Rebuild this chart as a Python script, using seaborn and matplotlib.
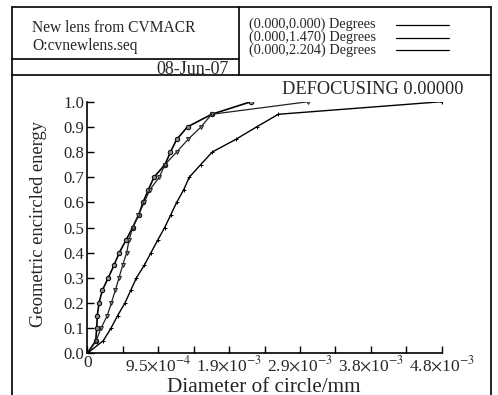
import matplotlib
matplotlib.use('Agg')
import matplotlib.pyplot as plt
import numpy as np
import pandas as pd
import seaborn as sns
from matplotlib.lines import Line2D
from matplotlib.ticker import MultipleLocator, FixedLocator, FixedFormatter

sns.set_style('white')
plt.rcParams['font.family'] = ['Liberation Serif', 'DejaVu Serif']
plt.rcParams['mathtext.fontset'] = 'stix'

# encircled energy levels (same for every field)
energia = [0.0, 0.05, 0.10, 0.15, 0.20, 0.25, 0.30, 0.35, 0.40, 0.45, 0.50,
           0.55, 0.60, 0.65, 0.70, 0.75, 0.80, 0.85, 0.90, 0.95, 1.0]

# diameters (mm) for each field angle
diam_0000 = [0.0, 1.13e-4, 1.26e-4, 1.34e-4, 1.57e-4, 2.01e-4, 2.81e-4, 3.58e-4,
             4.29e-4, 5.19e-4, 6.08e-4, 6.89e-4, 7.47e-4, 8.18e-4, 8.94e-4,
             1.041e-3, 1.115e-3, 1.198e-3, 1.343e-3, 1.667e-3, 2.194e-3]
diam_1470 = [0.0, 1.20e-4, 1.84e-4, 2.68e-4, 3.22e-4, 3.75e-4, 4.25e-4, 4.74e-4,
             5.28e-4, 5.59e-4, 6.08e-4, 6.84e-4, 7.64e-4, 8.38e-4, 9.65e-4,
             1.041e-3, 1.198e-3, 1.350e-3, 1.524e-3, 1.667e-3, 2.962e-3]
diam_2204 = [0.0, 2.14e-4, 3.18e-4, 4.07e-4, 5.05e-4, 5.82e-4, 6.59e-4, 7.64e-4,
             8.54e-4, 9.44e-4, 1.037e-3, 1.118e-3, 1.198e-3, 1.292e-3, 1.367e-3,
             1.520e-3, 1.675e-3, 1.989e-3, 2.270e-3, 2.560e-3, 4.75e-3]

campos = ['(0.000,0.000) Degrees', '(0.000,1.470) Degrees', '(0.000,2.204) Degrees']
xticks_val = [0, 9.5e-4, 1.9e-3, 2.85e-3, 3.8e-3, 4.75e-3]
xticks_lab = ['0', r'9.5$\times$10$^{-4}$', r'1.9$\times$10$^{-3}$', r'2.9$\times$10$^{-3}$',
              r'3.8$\times$10$^{-3}$', r'4.8$\times$10$^{-3}$']
yticks_val = [0.0, 0.1, 0.2, 0.3, 0.4, 0.5, 0.6, 0.7, 0.8, 0.9, 1.0]
yticks_lab = ['0.0', '0.1', '0.2', '0.3', '0.4', '0.5', '0.6', '0.7', '0.8', '0.9', '1.0']

df = pd.concat([
    pd.DataFrame({'diam': diam_0000, 'ee': energia, 'campo': campos[0]}),
    pd.DataFrame({'diam': diam_1470, 'ee': energia, 'campo': campos[1]}),
    pd.DataFrame({'diam': diam_2204, 'ee': energia, 'campo': campos[2]}),
])

W, H = 498, 395
fig = plt.figure(figsize=(W/100, H/100), dpi=100)
fx = lambda px: px/W
fy = lambda py: 1-py/H

ax = fig.add_axes([fx(87.3), fy(353.3), fx(441.7)-fx(87.3), fy(101.7)-fy(353.3)])

estilos = {campos[0]: dict(marker='o', ms=3.2, mfc='#888888', mec='black', lw=1.2, color='black'),
           campos[1]: dict(marker='v', ms=2.8, mfc='#888888', mec='#222222', lw=0.9, color='#222222'),
           campos[2]: dict(marker='+', ms=3, mec='black', lw=1.0, color='black')}
for c in campos:
    sub = df[df['campo'] == c]
    sns.lineplot(x='diam', y='ee', data=sub, sort=False, estimator=None, ax=ax,
                 markeredgewidth=0.7, **estilos[c])

ax.set_xlim(0, 4.75e-3)
ax.set_ylim(0, 1.0)
ax.xaxis.set_major_locator(FixedLocator(xticks_val))
ax.xaxis.set_major_formatter(FixedFormatter(xticks_lab))
ax.xaxis.set_minor_locator(MultipleLocator(4.75e-4))
ax.yaxis.set_major_locator(FixedLocator(yticks_val))
ax.yaxis.set_major_formatter(FixedFormatter(yticks_lab))
ax.tick_params(axis='both', which='both', direction='in', length=5, width=1, color='black',
               labelsize=12, pad=2)
ax.tick_params(axis='x', which='minor', length=5)
ax.tick_params(axis='x', labelsize=12.5, pad=1)
ax.yaxis.set_ticks_position('left')
ax.xaxis.set_ticks_position('bottom')
for s in ['top', 'right']:
    ax.spines[s].set_visible(False)
for s in ['left', 'bottom']:
    ax.spines[s].set_color('black')
    ax.spines[s].set_linewidth(1.2)
ax.set_xlabel('Diameter of circle/mm', fontsize=15.3, va='baseline')
ax.xaxis.set_label_coords(0.4986, -0.152)
ax.set_ylabel('Geometric encircled energy', fontsize=13.3, va='center')
ax.yaxis.set_label_coords(-0.139, 0.512)
ax.patch.set_alpha(0)
if ax.get_legend():
    ax.get_legend().remove()

# marco del encabezado
lin = dict(color='black', lw=1.2, transform=fig.transFigure)
fig.add_artist(Line2D([fx(12.3), fx(12.3)], [fy(6.7), 0], **lin))
fig.add_artist(Line2D([fx(491), fx(491)], [fy(6.7), 0], **lin))
fig.add_artist(Line2D([fx(12.3), fx(491)], [fy(6.7), fy(6.7)], **lin))
fig.add_artist(Line2D([fx(12.3), fx(491)], [fy(75), fy(75)], **lin))
fig.add_artist(Line2D([fx(238.7), fx(238.7)], [fy(6.7), fy(75)], **lin))
fig.add_artist(Line2D([fx(12.3), fx(238.7)], [fy(59.3), fy(59.3)], **lin))

fig.text(fx(32), fy(32), 'New lens from CVMACR', fontsize=11.2, va='baseline', ha='left')
fig.text(fx(32), fy(49.5), 'O:cvnewlens.seq', fontsize=11.2, va='baseline', ha='left')
fig.text(fx(229), fy(73.5), '08-Jun-07', fontsize=13, va='baseline', ha='right')
for i, c in enumerate(campos):
    base = 28 + 12.7*i
    fig.text(fx(249.3), fy(base), c, fontsize=10.3, va='baseline', ha='left')
    fig.add_artist(Line2D([fx(396), fx(449)], [fy(base-3), fy(base-3)], color='black', lw=0.9,
                          transform=fig.transFigure))
fig.text(fx(463), fy(94), 'DEFOCUSING 0.00000', fontsize=13.2, va='baseline', ha='right')

fig.savefig('out.png', dpi=100)
